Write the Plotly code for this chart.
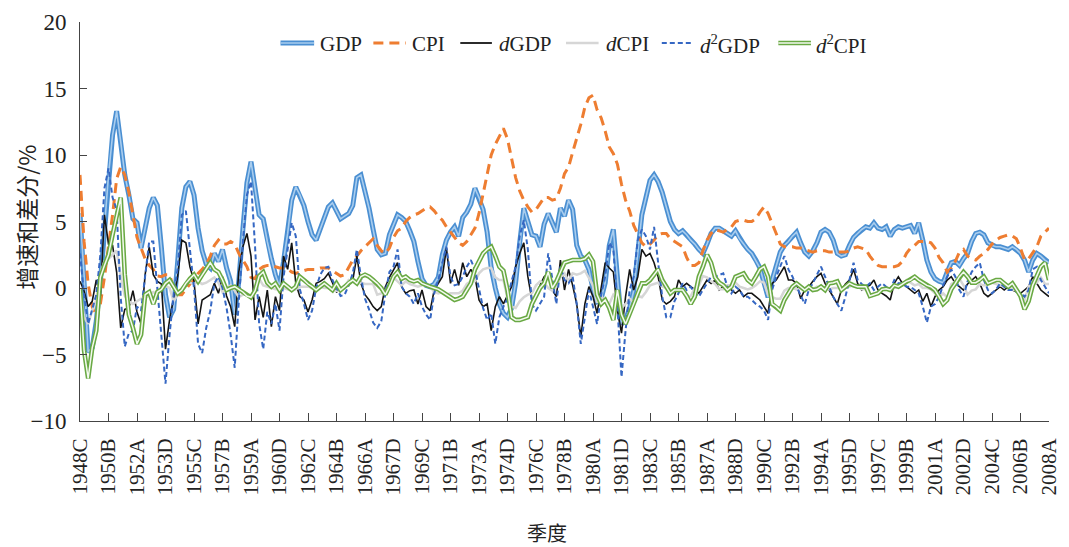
import plotly.graph_objects as go

# ---------------- data (quarterly, 1948C .. 2008A) ----------------
quarter_index = list(range(239))
tick_index = list(range(0, 239, 7))
tick_labels = ["1948C", "1950B", "1952A", "1953D", "1955C", "1957B", "1959A", "1960D",
               "1962C", "1964B", "1966A", "1967D", "1969C", "1971B", "1973A", "1974D",
               "1976C", "1978B", "1980A", "1981D", "1983C", "1985B", "1987A", "1988D",
               "1990C", "1992B", "1994A", "1995D", "1997C", "1999B", "2001A", "2002D",
               "2004C", "2006B", "2008A"]

gdp = [5.6, 1.0, -4.8, -4.5, -2.5, 0.5, 4.5, 8.5, 11.5, 13.3,
       11.0, 8.5, 7.0, 5.2, 4.9, 3.0, 4.5, 6.0, 6.8, 6.2,
       3.0, -0.5, -2.2, -1.6, 2.0, 6.0, 7.6, 8.0, 7.0, 4.5,
       2.8, 1.8, 1.5, 2.6, 2.0, 2.9, 1.5, 0.5, -2.0, 0.5,
       4.4, 7.9, 9.5, 7.5, 5.5, 5.2, 3.5, 2.2, 1.0, 0.1,
       2.0, 4.1, 6.6, 7.6, 7.0, 6.2, 5.0, 4.0, 3.6, 4.4,
       5.3, 6.1, 6.4, 5.8, 5.2, 5.4, 5.6, 6.2, 8.3, 8.5,
       7.3, 6.0, 4.4, 2.9, 2.5, 2.6, 4.0, 4.8, 5.5, 5.3,
       5.0, 4.3, 3.5, 2.0, 0.7, 0.2, 0.1, 0.3, 0.8, 2.5,
       3.6, 4.2, 4.6, 3.9, 5.3, 5.7, 6.3, 7.5, 6.8, 5.9,
       4.2, 1.5, 0.0, -1.2, -1.9, -2.2, -1.5, 0.4, 3.4, 6.0,
       5.0, 4.0, 3.9, 3.1, 4.8, 5.6, 4.9, 4.2, 6.0, 5.4,
       6.6, 5.9, 3.2, 2.4, 2.1, 1.4, -0.1, -1.0, -0.8, 0.4,
       3.2, 4.4, 0.8, -2.7, -2.4, -1.5, -0.2, 2.5, 5.5, 6.8,
       8.1, 8.5, 8.0, 7.2, 6.0, 5.0, 4.4, 4.1, 4.3, 4.0,
       3.6, 3.3, 2.9, 2.6, 3.3, 4.1, 4.5, 4.5, 4.3, 4.1,
       3.9, 4.3, 3.7, 3.3, 2.9, 2.6, 2.1, 1.5, 0.4, -0.7,
       0.6, 1.7, 2.7, 3.2, 3.5, 3.9, 4.2, 3.4, 2.7, 2.4,
       2.8, 3.4, 4.2, 4.4, 4.2, 3.6, 2.6, 2.4, 2.5, 3.2,
       3.8, 4.1, 4.4, 4.6, 4.5, 4.9, 4.5, 4.4, 4.6, 3.9,
       4.4, 4.6, 4.5, 4.6, 4.7, 4.1, 4.9, 3.6, 2.1, 1.2,
       0.7, 0.5, 0.4, 1.2, 1.9, 2.0, 1.7, 2.2, 2.6, 3.5,
       4.1, 4.2, 4.0, 3.4, 3.2, 3.1, 3.1, 3.0, 2.9, 3.1,
       2.9, 2.6, 2.1, 1.2, 2.1, 2.6, 2.4, 2.1, 1.9]

cpi = [8.5, 3.5, 0.3, -1.4, -2.3, -1.2, 0.8, 3.0, 5.5, 8.2,
       9.1, 8.5, 7.2, 5.5, 3.8, 3.0, 2.2, 1.7, 1.4, 0.9,
       0.85, 1.0, 1.0, 0.0, -0.5, -0.5, -0.1, 0.3, 0.6, 1.1,
       1.4, 1.8, 2.4, 3.2, 3.6, 3.3, 3.3, 3.5, 3.3, 2.6,
       2.1, 1.6, 0.8, 0.7, 1.4, 1.6, 1.7, 1.7, 1.6, 1.5,
       1.5, 1.4, 1.2, 1.1, 1.2, 1.3, 1.4, 1.4, 1.4, 1.5,
       1.5, 1.5, 1.3, 1.1, 0.9, 1.0, 1.6, 2.1, 2.4, 2.8,
       3.1, 3.4, 3.7, 3.2, 2.8, 2.6, 3.0, 3.8, 4.3, 4.5,
       5.0, 5.3, 5.5, 5.6, 5.8, 6.0, 6.1, 5.8, 5.4, 5.1,
       4.6, 4.2, 3.8, 3.4, 3.2, 3.5, 4.0, 4.5, 5.6, 7.0,
       8.5, 10.0, 10.8, 11.4, 12.0, 11.2, 9.8, 8.3, 7.3, 6.6,
       6.1, 5.7, 5.9, 6.4, 6.8, 6.8, 6.6, 6.7, 7.5, 8.6,
       9.1, 10.2, 11.2, 12.3, 13.6, 14.3, 14.5, 13.4, 12.8, 11.8,
       10.6, 10.1, 9.3, 7.8, 6.6, 5.8, 4.7, 4.1, 3.4, 3.1,
       3.3, 3.6, 4.0, 4.1, 4.1, 3.7, 3.5, 3.3, 3.1, 2.3,
       1.7, 1.7, 1.9, 2.8, 3.6, 4.1, 4.4, 4.3, 4.2, 4.4,
       4.6, 5.0, 5.1, 5.1, 5.0, 5.0, 5.2, 5.7, 6.1, 5.6,
       4.9, 4.1, 3.3, 3.1, 3.1, 3.1, 3.0, 3.0, 2.9, 2.8,
       2.7, 2.8, 2.8, 2.8, 2.7, 2.7, 2.7, 2.7, 2.7, 2.8,
       3.0, 3.1, 3.0, 2.9, 2.4, 2.0, 1.7, 1.6, 1.6, 1.6,
       1.6, 1.7, 2.0, 2.6, 3.0, 3.2, 3.5, 3.5, 3.5, 3.4,
       3.0, 2.3, 1.9, 1.2, 1.5, 2.0, 2.7, 2.9, 2.4, 2.2,
       2.1, 2.4, 2.6, 2.9, 3.3, 3.6, 3.8, 3.9, 4.0, 3.9,
       3.7, 3.0, 2.1, 2.2, 2.7, 3.1, 3.9, 4.2, 4.5]

d_gdp = [0.5, -0.2, -1.4, -1.0, 0.6, -0.6, 5.5, 3.3, 3.2, 1.2,
         -3.0, -1.6, -1.5, -0.2, -1.8, -2.7, 1.0, 3.1, 1.0, 0.5,
         0.3, -4.6, -2.4, -0.7, 0.9, 3.6, 3.4, 1.6, 0.5, -2.7,
         -0.9, -0.7, -0.5, 0.35, -0.4, 0.85, -0.6, -1.4, -2.9, 1.2,
         3.1, 4.1, 2.4, -2.4, -0.65, -2.2, -0.15, -2.9, -0.65, -1.7,
         2.4, 1.4, 3.4, 0.35, -0.65, -0.9, -1.8, -0.9, 0.35, 0.5,
         0.7, 1.1, 0.35, -0.3, -0.15, 0.1, 0.3, 0.6, 2.4, 0.35,
         -0.5, -0.9, -1.4, -1.7, -1.4, 0.1, 0.8, 1.4, 1.9, 0.1,
         -0.4, -0.2, -0.15, -1.2, -0.15, -1.4, -1.7, -0.15, 0.35, 0.85,
         3.0, 0.35, 1.4, 0.2, 1.9, 0.85, 1.4, 0.85, -0.9, -1.4,
         -1.2, -3.2, -1.4, -0.65, -1.2, -0.5, 0.1, 1.6, 2.6, 3.4,
         0.85, -0.9, -0.65, 0.2, 0.85, 1.1, -0.15, -0.65, 2.1, -0.15,
         1.4, 0.2, -1.2, -3.7, -1.2, 0.1, -0.65, -1.9, -0.15, 1.9,
         1.5, 1.2, -1.7, -3.4, -0.65, 1.4, -0.15, 0.85, 2.9, 2.4,
         2.6, 1.9, 0.85, -0.9, -1.2, -1.0, -0.65, 0.6, 0.1, 0.35,
         0.1, -0.1, -0.4, 0.1, 0.6, 0.35, 0.6, -0.15, 0.1, 0.1,
         -0.15, -0.4, -0.15, -0.65, -0.4, -0.4, -0.65, -0.9, -1.4, -1.9,
         0.35, 0.6, 1.1, 1.6, 0.6, 0.6, 0.35, -0.8, -0.15, 0.1,
         0.5, 0.85, 1.1, 0.35, -0.15, -0.65, -1.2, -0.15, 0.3, 0.6,
         1.4, 0.35, -0.15, 0.1, 0.2, 0.6, -0.15, -0.4, -0.6, -0.9,
         0.35, 0.85, 0.35, 0.1, -0.15, -0.4, -0.15, -1.0, -0.4, -1.4,
         -0.65, -0.15, 0.1, 0.6, 0.85, 0.35, 0.1, -0.15, 0.3, 0.6,
         0.85, 0.35, -0.4, -0.65, -0.4, -0.15, 0.1, -0.15, 0.1, -0.15,
         -0.3, -0.4, -0.15, 0.1, 0.85, 0.35, -0.15, -0.4, -0.65]

d_cpi = [0.0, -2.2, -2.7, -1.7, -0.9, 1.1, 2.0, 2.2, 2.5, 2.8,
         0.9, -0.6, -1.0, -1.2, -1.0, -0.8, -0.8, -0.5, -0.3, -0.5,
         0.0, 0.15, 0.0, -1.0, -0.5, 0.0, 0.4, 0.4, 0.3, 0.5,
         0.3, 0.4, 0.6, 0.8, 0.4, -0.3, 0.0, 0.2, -0.2, -0.7,
         -0.5, -0.5, -0.8, -0.1, 0.7, 0.2, 0.1, 0.0, -0.1, -0.1,
         0.0, -0.1, -0.2, -0.1, 0.1, 0.1, 0.1, 0.0, 0.0, 0.1,
         0.0, 0.0, -0.2, -0.2, -0.2, 0.1, 0.6, 0.5, 0.3, 0.4,
         0.3, 0.3, 0.3, -0.5, -0.4, -0.2, 0.4, 0.8, 0.5, 0.2,
         0.5, 0.3, 0.2, 0.1, 0.2, 0.2, 0.1, -0.3, -0.4, -0.3,
         -0.5, -0.4, -0.4, -0.4, -0.2, 0.3, 0.5, 0.5, 1.1, 1.4,
         1.5, 1.5, 0.8, 0.6, 0.6, -0.8, -1.4, -1.5, -1.0, -0.7,
         -0.5, -0.4, 0.2, 0.5, 0.4, 0.0, -0.2, 0.1, 0.8, 1.1,
         0.5, 1.1, 1.0, 1.1, 1.3, 0.7, 0.2, -1.1, -0.6, -1.0,
         -1.2, -0.5, -0.8, -1.5, -1.2, -0.8, -1.1, -0.6, -0.7, -0.3,
         0.2, 0.3, 0.4, 0.1, 0.0, -0.4, -0.2, -0.2, -0.2, -0.8,
         -0.6, 0.0, 0.2, 0.9, 0.8, 0.5, 0.3, -0.1, -0.1, 0.2,
         0.2, 0.4, 0.1, 0.0, -0.1, 0.0, 0.2, 0.5, 0.4, -0.5,
         -0.7, -0.8, -0.8, -0.2, 0.0, 0.0, -0.1, 0.0, -0.1, -0.1,
         -0.1, 0.1, 0.0, 0.0, -0.1, 0.0, 0.0, 0.0, 0.0, 0.1,
         0.2, 0.1, -0.1, -0.1, -0.5, -0.4, -0.3, -0.1, 0.0, 0.0,
         0.0, 0.1, 0.3, 0.6, 0.4, 0.2, 0.3, 0.0, 0.0, -0.1,
         -0.4, -0.7, -0.4, -0.7, 0.3, 0.5, 0.7, 0.2, -0.5, -0.2,
         -0.1, 0.3, 0.2, 0.3, 0.4, 0.3, 0.2, 0.1, 0.1, -0.1,
         -0.2, -0.7, -0.9, 0.1, 0.5, 0.4, 0.8, 0.3, 0.3]

d2_gdp = [2.6, -0.5, -2.7, -1.5, -0.5, 2.5, 7.5, 9.0, 6.8, 5.9,
          -0.7, -4.4, -3.4, -3.2, -1.4, -1.7, 1.0, 3.5, 3.5, 0.0,
          -4.0, -7.2, -3.5, -0.5, 1.5, 5.5, 5.8, 3.0, 0.0, -4.2,
          -4.9, -3.0, -1.7, 0.35, 0.85, 0.0, -1.5, -3.5, -6.0, -1.0,
          3.5, 7.0, 8.0, 3.1, -2.7, -4.6, -1.8, -2.7, -1.2, -3.2,
          0.85, 2.9, 4.9, 3.9, -0.1, -1.2, -2.4, -1.7, 0.0, 1.0,
          1.5, 1.6, 0.6, 0.0, -0.6, -0.5, 0.2, 1.1, 2.9, 0.85,
          -0.8, -1.6, -2.6, -3.0, -2.5, -0.4, 1.2, 1.6, 2.9, 0.1,
          -0.4, -0.65, -1.2, -0.4, -1.4, -2.0, -2.4, -0.4, 0.6, 1.9,
          3.1, 0.85, 0.2, 0.3, 0.85, 1.6, 2.1, 1.4, -0.2, -1.5,
          -2.4, -1.9, -4.2, -2.2, -1.4, -0.8, 0.5, 1.6, 3.9, 5.1,
          2.9, -1.2, -1.7, -1.2, -0.65, 2.6, 0.85, -1.2, 1.6, 0.6,
          0.35, 0.85, -1.2, -4.2, -2.2, -0.15, -1.4, -2.7, -0.5, 0.85,
          3.4, 2.9, -1.4, -6.7, -3.2, -0.15, 0.85, 3.6, 4.4, 3.9,
          2.9, 4.6, 1.9, -0.65, -2.2, -2.2, -1.0, -0.4, 0.35, -0.15,
          0.1, -0.4, -0.65, -0.15, 0.35, 0.85, 0.85, 1.0, 1.1, 0.1,
          -0.4, 0.1, -0.15, -0.65, -0.65, -0.9, -1.2, -1.4, -1.7, -2.4,
          -0.15, 0.85, 1.6, 2.4, 1.4, 0.85, 0.1, -0.6, -1.2, -0.15,
          0.35, 1.0, 1.6, 0.85, 0.1, -0.65, -1.2, -1.7, -0.65, 0.6,
          1.9, 0.6, 0.3, 0.1, 0.35, -0.15, 0.1, 0.35, 0.1, -0.15,
          0.6, 0.35, 0.35, 0.1, 0.1, -0.15, -0.4, -1.4, -2.6, -1.4,
          -1.2, -0.65, 0.2, 0.85, 1.4, 0.85, -0.15, -0.65, 0.5, 1.2,
          1.6, 1.9, 0.6, -0.15, -0.4, -0.1, 0.35, 0.1, -0.15, -0.15,
          -0.3, -0.4, -0.65, -0.15, 1.4, 1.6, 0.6, 0.1, -0.4]

d2_cpi = [0.0, -4.7, -6.8, -4.5, -3.2, 0.8, 1.7, 2.5, 4.0, 5.5,
          6.8, 1.0, -2.0, -3.0, -4.2, -3.5, -0.5, -0.3, -1.2, -0.3,
          -0.1, 0.35, 0.6, 0.1, -0.4, -0.15, 0.35, 0.7, 1.0, 0.5,
          1.0, 1.4, 1.9, 1.4, 1.2, 0.6, -0.15, 0.0, 0.1, -0.1,
          -0.3, -0.6, -0.7, -0.2, 0.9, 1.2, 0.4, 0.1, 0.35, -0.15,
          0.35, 0.1, -0.15, 0.1, 0.85, 0.6, 0.3, 0.1, -0.15, 0.1,
          0.35, 0.1, -0.15, 0.35, -0.15, 0.1, 0.4, 0.6, 0.35, 0.85,
          1.0, 0.85, 0.6, 0.35, 0.0, -0.5, 0.1, 0.85, 1.2, 0.7,
          0.85, 0.6, 0.5, 0.6, 0.35, 0.2, 0.1, 0.0, -0.1, -0.3,
          -0.5, -0.65, -0.9, -0.8, -0.65, -0.15, 0.35, 1.4, 2.0, 2.6,
          2.9, 3.1, 2.4, 1.6, 1.3, -0.15, -2.2, -2.4, -2.4, -2.3,
          -2.2, -1.2, -0.65, 0.0, 0.35, 1.2, 0.0, 0.5, 1.2, 1.9,
          2.0, 2.1, 2.1, 2.1, 2.2, 2.5, 2.0, -0.5, -1.2, -0.9,
          -1.5, -2.4, -0.15, -2.0, -2.7, -2.0, -1.2, -0.4, 0.35, 0.35,
          0.6, 1.0, 1.4, 0.6, 0.1, -0.4, -0.15, -0.15, -0.15, -0.6,
          -1.2, -0.65, 0.85, 1.6, 2.5, 1.9, 0.8, 0.4, 0.2, -0.15,
          0.1, 0.85, 1.0, 1.1, 0.6, 0.35, 0.85, 1.4, 1.6, 0.85,
          -1.2, -1.4, -1.7, -0.9, -0.4, 0.1, 0.35, 0.1, -0.15, 0.1,
          -0.15, -0.1, 0.1, -0.15, 0.35, 0.4, 0.5, -0.15, 0.1, 0.35,
          0.2, 0.1, 0.1, 0.1, -0.6, -0.5, -0.4, -0.1, -0.05, -0.15,
          0.2, 0.1, 0.3, 0.5, 0.6, 0.85, 0.6, 0.4, 0.2, 0.1,
          -0.15, -0.65, -1.2, -0.9, -0.1, 0.35, 0.85, 1.2, 0.85, 0.4,
          0.4, 0.6, 0.85, 0.35, 0.5, 0.6, 0.6, 0.35, 0.1, 0.35,
          -0.15, -0.6, -1.6, -1.0, 0.2, 0.9, 1.6, 1.9, 0.6]

for name, s in [("gdp", gdp), ("cpi", cpi), ("d_gdp", d_gdp), ("d_cpi", d_cpi),
                ("d2_gdp", d2_gdp), ("d2_cpi", d2_cpi)]:
    assert len(s) == len(quarter_index), (name, len(s))

# ---------------- styling ----------------
W, H = 1069, 547
ML, MR, MT, MB = 80, 8, 22, 126
PW, PH = W - ML - MR, H - MT - MB

C_GDP_OUT, C_GDP_IN = "#4a8fd2", "#a9cdee"
C_CPI = "#ee7d31"
C_DGDP = "#141414"
C_DCPI = "#d6d6d6"
C_D2GDP = "#3567c3"
C_D2CPI_OUT, C_D2CPI_IN = "#69a943", "#f4faf0"

SERIF = "Liberation Serif, Times New Roman, serif"
CJK = "Noto Sans CJK SC, sans-serif"
CPI_DASH = "10px,6px"
D2GDP_DASH = "5px,3px"

fig = go.Figure()


def add_line(y, color, width, dash="solid"):
    fig.add_trace(go.Scatter(x=quarter_index, y=y, mode="lines",
                             line=dict(color=color, width=width, dash=dash),
                             showlegend=False, hoverinfo="skip"))


add_line(gdp, C_GDP_OUT, 5)
add_line(gdp, C_GDP_IN, 1.6)
add_line(cpi, C_CPI, 3, CPI_DASH)
add_line(d_gdp, C_DGDP, 1.6)
add_line(d_cpi, C_DCPI, 2.5)
add_line(d2_gdp, C_D2GDP, 2, D2GDP_DASH)
add_line(d2_cpi, C_D2CPI_OUT, 4.6)
add_line(d2_cpi, C_D2CPI_IN, 1.5)


def px_x(px):
    return (px - ML) / PW


def px_y(py):
    return (H - MB - py) / PH


# ---------------- custom legend ----------------
LEG_Y = 43
legend_items = [
    (283, 317, 321, "GDP", [(C_GDP_OUT, 5, "solid"), (C_GDP_IN, 1.6, "solid")]),
    (377, 410, 414, "CPI", [(C_CPI, 3, CPI_DASH)]),
    (465, 497, 502, "<i>d</i>GDP", [(C_DGDP, 1.8, "solid")]),
    (572, 605, 610, "<i>d</i>CPI", [(C_DCPI, 2.5, "solid")]),
    (669, 700, 706, "<i>d</i><sup>2</sup>GDP", [(C_D2GDP, 2, D2GDP_DASH)]),
    (787, 820, 823, "<i>d</i><sup>2</sup>CPI", [(C_D2CPI_OUT, 4.6, "solid"), (C_D2CPI_IN, 1.5, "solid")]),
]
shapes = []
annotations = []
for x0, x1, xt, label, styles in legend_items:
    for col, wd, ds in styles:
        shapes.append(dict(type="line", xref="paper", yref="paper",
                           x0=px_x(x0), x1=px_x(x1), y0=px_y(LEG_Y), y1=px_y(LEG_Y),
                           line=dict(color=col, width=wd, dash=ds)))
    annotations.append(dict(text=label, xref="paper", yref="paper", x=px_x(xt), y=px_y(LEG_Y + 1),
                            xanchor="left", yanchor="middle", showarrow=False,
                            font=dict(family=SERIF, size=21, color="#222")))

# axis titles
annotations.append(dict(text="季度", xref="paper", yref="paper", x=px_x(553), y=px_y(532),
                        xanchor="center", yanchor="middle", showarrow=False,
                        font=dict(family=CJK, size=20, color="#222")))
annotations.append(dict(text="增速和差分/%", xref="paper", yref="paper", x=px_x(25), y=px_y(217),
                        xanchor="center", yanchor="middle", showarrow=False, textangle=-90,
                        font=dict(family=CJK, size=23, color="#222")))

fig.update_layout(
    width=W, height=H,
    margin=dict(l=ML, r=MR, t=MT, b=MB, pad=0),
    paper_bgcolor="white", plot_bgcolor="white",
    font=dict(family=SERIF, color="#222"),
    shapes=shapes, annotations=annotations,
    showlegend=False,
)
fig.update_xaxes(
    range=[0, 238], tickmode="array", tickvals=tick_index, ticktext=tick_labels,
    tickangle=-90, ticks="inside", ticklen=8, tickcolor="#444", tickwidth=1,
    showline=True, linecolor="#444", linewidth=1, showgrid=False, zeroline=False,
    tickfont=dict(family=SERIF, size=21, color="#222"), ticklabelstandoff=8,
    ticklabeloverflow="allow",
)
fig.update_yaxes(
    range=[-10, 20], tickmode="linear", tick0=-10, dtick=5,
    ticks="inside", ticklen=7, tickcolor="#444", tickwidth=1,
    showline=True, linecolor="#444", linewidth=1, showgrid=False, zeroline=False,
    tickfont=dict(family=SERIF, size=23, color="#222"), ticklabelstandoff=8,
    ticklabeloverflow="allow",
)

fig.write_html("out.html")
